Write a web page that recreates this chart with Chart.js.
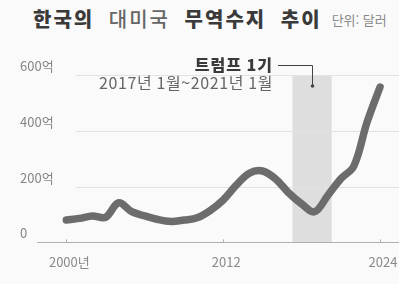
<!DOCTYPE html>
<html lang="ko">
<head>
<meta charset="utf-8">
<script src="https://cdn.jsdelivr.net/npm/chart.js@4.4.1/dist/chart.umd.min.js"></script>
<style>
  html, body { margin: 0; padding: 0; background: #fafafa; }
  #wrap { position: relative; width: 399px; height: 284px; overflow: hidden;
          font-family: "Noto Sans CJK KR", "Noto Sans", sans-serif; }
  #title { position: absolute; left: 33px; top: 4px; font-size: 20px; font-weight: 900;
           color: #3a3a3a; white-space: nowrap; letter-spacing: 2px; word-spacing: 7px; }
  #title .lt { font-weight: 500; color: #666; }
  #title .unit { font-size: 13px; font-weight: 400; color: #888; letter-spacing: 0; word-spacing: 0;
                 margin-left: 10px; vertical-align: 2px; }
  canvas { position: absolute; left: 0; top: 0; }
</style>
</head>
<body>
<div id="wrap">
  <div id="title">한국의 <span class="lt">대미국</span> 무역수지 추이<span class="unit">단위: 달러</span></div>
  <canvas id="chart" width="399" height="284"></canvas>
</div>
<script>
// 한국의 대미국 무역수지 (억 달러)
const years = [2000, 2001, 2002, 2003, 2004, 2005, 2006, 2007, 2008, 2009, 2010, 2011, 2012,
               2013, 2014, 2015, 2016, 2017, 2018, 2019, 2020, 2021, 2022, 2023, 2024];
const balance = [80, 86, 95, 90, 142, 110, 95, 82, 75, 80, 88, 114, 152,
                 205, 248, 256, 228, 178, 138, 110, 168, 228, 274, 430, 557];
const yTicks = [0, 200, 400, 600];
const xTicks = [2000, 2012, 2024];
const trumpTerm = [2017.3, 2020.3];   // 음영 구간
const trumpLabel = '트럼프 1기';
const trumpSub = '2017년 1월~2021년 1월';

const points = years.map((yr, i) => ({ x: yr, y: balance[i] }));

// 배경 음영 + 눈금선 + 주석
const decor = {
  id: 'decor',
  beforeDatasetsDraw(chart) {
    const { ctx, scales: { x, y } } = chart;
    ctx.save();
    const x0 = x.getPixelForValue(trumpTerm[0]);
    const x1 = x.getPixelForValue(trumpTerm[1]);
    const yt = y.getPixelForValue(600);
    const yb = y.getPixelForValue(0);
    ctx.fillStyle = '#dedede';
    ctx.fillRect(x0, yt, x1 - x0, yb - yt);

    ctx.lineWidth = 1;
    yTicks.forEach(v => {
      const py = Math.round(y.getPixelForValue(v)) + 0.5;
      ctx.strokeStyle = v === 0 ? '#b0b0b0' : '#e2e2e2';
      ctx.beginPath();
      ctx.moveTo(v === 0 ? 37 : 76, py);
      ctx.lineTo(chart.width, py);
      ctx.stroke();
    });
    // 작은 눈금 표시
    ctx.strokeStyle = '#b0b0b0';
    xTicks.forEach(v => {
      const px = Math.round(x.getPixelForValue(v)) + 0.5;
      ctx.beginPath();
      ctx.moveTo(px, yb - 3);
      ctx.lineTo(px, yb);
      ctx.stroke();
    });
    ctx.restore();
  },
  afterDatasetsDraw(chart) {
    const { ctx, scales: { x, y } } = chart;
    const xm = (x.getPixelForValue(trumpTerm[0]) + x.getPixelForValue(trumpTerm[1])) / 2;
    const ly = y.getPixelForValue(600) - 10;
    ctx.save();
    ctx.textAlign = 'right';
    ctx.textBaseline = 'middle';
    ctx.letterSpacing = '1px';
    ctx.font = '900 16px "Noto Sans CJK KR"';
    ctx.fillStyle = '#3a3a3a';
    ctx.fillText(trumpLabel, 273, ly);
    ctx.letterSpacing = '0.6px';
    ctx.font = '16px "Noto Sans CJK KR"';
    ctx.fillStyle = '#666';
    ctx.fillText(trumpSub, 273, ly + 18);
    ctx.letterSpacing = '0px';

    ctx.strokeStyle = '#444';
    ctx.lineWidth = 1;
    ctx.beginPath();
    ctx.moveTo(278, Math.round(ly) + 0.5);
    ctx.lineTo(Math.round(xm) + 0.5, Math.round(ly) + 0.5);
    ctx.lineTo(Math.round(xm) + 0.5, ly + 21);
    ctx.stroke();
    ctx.fillStyle = '#444';
    ctx.beginPath();
    ctx.arc(Math.round(xm) + 0.5, ly + 21, 1.8, 0, Math.PI * 2);
    ctx.fill();
    ctx.restore();
  }
};

new Chart(document.getElementById('chart'), {
  type: 'line',
  data: {
    datasets: [{
      data: points,
      borderColor: '#6c6c6c',
      borderWidth: 7.5,
      borderCapStyle: 'round',
      borderJoinStyle: 'round',
      tension: 0.35,
      pointRadius: 0,
      fill: false
    }]
  },
  options: {
    responsive: false,
    animation: false,
    layout: { padding: { left: 33, right: 0, top: 75, bottom: 10 } },
    plugins: { legend: { display: false }, tooltip: { enabled: false } },
    scales: {
      x: {
        type: 'linear',
        min: 1997.45,
        max: 2025.45,
        afterBuildTicks: axis => { axis.ticks = xTicks.map(v => ({ value: v })); },
        grid: { display: false },
        border: { display: false },
        ticks: {
          color: '#8a8a8a',
          font: { family: '"Noto Sans CJK KR"', size: 13 },
          padding: 4,
          labelOffset: 3,
          maxRotation: 0,
          callback: v => v === 2000 ? '2000년' : String(v)
        }
      },
      y: {
        min: 0,
        max: 600,
        afterBuildTicks: axis => { axis.ticks = yTicks.map(v => ({ value: v })); },
        grid: { display: false },
        border: { display: false },
        ticks: {
          mirror: true,
          padding: -7,
          labelOffset: -9,
          color: '#858585',
          font: { family: '"Noto Sans CJK KR"', size: 13 },
          callback: v => v === 0 ? '0' : v + '억'
        }
      }
    }
  },
  plugins: [decor]
});
</script>
</body>
</html>
